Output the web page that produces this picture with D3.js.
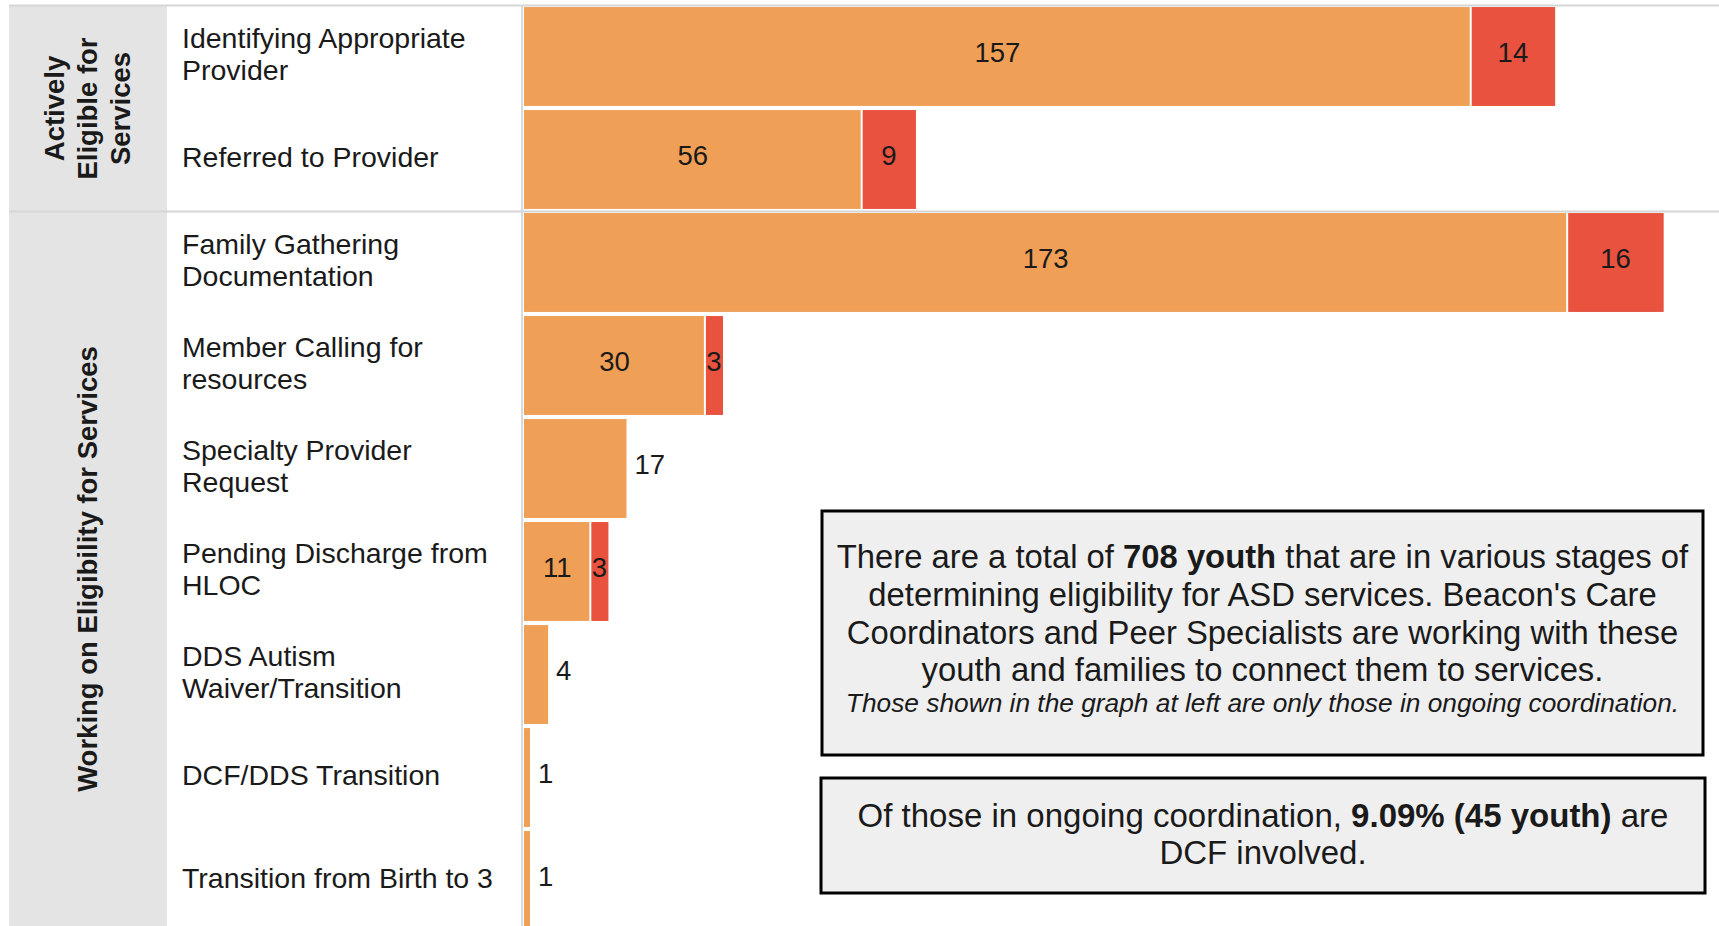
<!DOCTYPE html>
<html>
<head>
<meta charset="utf-8">
<script src="https://cdn.jsdelivr.net/npm/d3@7/dist/d3.min.js"></script>
<style>
  html, body { margin: 0; padding: 0; background: #fff; }
  svg { display: block; }
  text { font-family: "Liberation Sans", Arial, sans-serif; }
</style>
</head>
<body>
<svg id="chart" width="1719" height="926"></svg>
<script>
// ---- data ----
const categories = [
  "Identifying Appropriate Provider",
  "Referred to Provider",
  "Family Gathering Documentation",
  "Member Calling for resources",
  "Specialty Provider Request",
  "Pending Discharge from HLOC",
  "DDS Autism Waiver/Transition",
  "DCF/DDS Transition",
  "Transition from Birth to 3"
];
const categoryLines = [
  ["Identifying Appropriate", "Provider"],
  ["Referred to Provider"],
  ["Family Gathering", "Documentation"],
  ["Member Calling for", "resources"],
  ["Specialty Provider", "Request"],
  ["Pending Discharge from", "HLOC"],
  ["DDS Autism", "Waiver/Transition"],
  ["DCF/DDS Transition"],
  ["Transition from Birth to 3"]
];
const groups = ["Actively Eligible for Services", "Working on Eligibility for Services"];
const groupLines = [["Actively", "Eligible for", "Services"], ["Working on Eligibility for Services"]];
const groupOfCategory = [0, 0, 1, 1, 1, 1, 1, 1, 1];
const notDcfValues = [157, 56, 173, 30, 17, 11, 4, 1, 1];
const dcfValues = [14, 9, 16, 3, 0, 3, 0, 0, 0];
const seriesNames = ["Not DCF involved", "DCF involved"];
const seriesColors = ["#EFA056", "#E8523F"];

const box1Lines = [
  [{t: "There are a total of "}, {t: "708 youth", b: true}, {t: " that are in various stages of"}],
  [{t: "determining eligibility for ASD services. Beacon's Care"}],
  [{t: "Coordinators and Peer Specialists are working with these"}],
  [{t: "youth and families to connect them to services."}]
];
const box1Note = "Those shown in the graph at left are only those in ongoing coordination.";
const box2Lines = [
  [{t: "Of those in ongoing coordination, "}, {t: "9.09% (45 youth)", b: true}, {t: " are"}],
  [{t: "DCF involved."}]
];

// ---- layout ----
const W = 1719, H = 926;
const svg = d3.select("#chart");
const panelX0 = 9, panelX1 = 167, labelX = 182, axisX = 522, barX0 = 524;
const topY = 5;

const y = d3.scaleBand().domain(categories).range([topY, topY + 9 * 103]).paddingInner(0.04).paddingOuter(0.02);
const x = d3.scaleLinear().domain([0, 200]).range([barX0, barX0 + 200 * 6.03]);

const rows = categories.map((c, i) => ({
  cat: c, lines: categoryLines[i], g: groupOfCategory[i],
  a: notDcfValues[i], b: dcfValues[i]
}));

const groupSpans = groups.map((g, gi) => {
  const rs = rows.filter(r => r.g === gi);
  const y0 = gi === 0 ? topY + 1 : y(rs[0].cat) - 1;
  const last = rs[rs.length - 1];
  const y1 = gi === groups.length - 1 ? H : y(last.cat) + y.bandwidth() + 2;
  return {gi, y0, y1};
});

// grey header panel
svg.append("rect").attr("x", panelX0).attr("y", topY).attr("width", panelX1 - panelX0).attr("height", H - topY)
  .attr("fill", "#E4E4E4");

// vertical divider
svg.append("line").attr("x1", axisX).attr("x2", axisX).attr("y1", topY).attr("y2", H)
  .attr("stroke", "#DADADA").attr("stroke-width", 2);

// bars
const segs = [];
rows.forEach(r => {
  segs.push({cat: r.cat, s: 0, v0: 0, v1: r.a, v: r.a, hasDcf: r.b > 0});
  if (r.b > 0) segs.push({cat: r.cat, s: 1, v0: r.a, v1: r.a + r.b, v: r.b, hasDcf: true});
});
svg.append("g").selectAll("rect").data(segs).join("rect")
  .attr("x", d => x(d.v0) + (d.s === 1 ? 1 : 0))
  .attr("y", d => y(d.cat))
  .attr("width", d => x(d.v1) - x(d.v0) - (d.s === 1 ? 1 : 0) - (d.s === 0 && d.hasDcf ? 1 : 0))
  .attr("height", y.bandwidth())
  .attr("fill", d => seriesColors[d.s]);

// horizontal lines: top and group divider
const hLines = [topY + 0.5, y(categories[groupOfCategory.indexOf(1)]) - 1.5];
svg.append("g").selectAll("line").data(hLines).join("line")
  .attr("x1", panelX0).attr("x2", W).attr("y1", d => d).attr("y2", d => d)
  .attr("stroke", "#D6D6D6").attr("stroke-width", 2);

// value labels
const valueFont = 27.5;
svg.append("g").selectAll("text").data(segs).join("text")
  .attr("x", d => d.hasDcf ? (x(d.v0) + x(d.v1)) / 2 : x(d.v1) + 8)
  .attr("y", d => y(d.cat) + y.bandwidth() / 2 + 5)
  .attr("text-anchor", d => d.hasDcf ? "middle" : "start")
  .attr("font-size", valueFont)
  .attr("fill", "#1a1a1a")
  .text(d => d.v);

// category labels
const labelFont = 28.5, labelLH = 32;
const lg = svg.append("g");
rows.forEach((r, i) => {
  const cy = y(r.cat) + y.bandwidth() / 2;
  const n = r.lines.length;
  r.lines.forEach((ln, k) => {
    lg.append("text")
      .attr("x", labelX)
      .attr("y", cy + (k - (n - 1) / 2) * labelLH + 7.5)
      .attr("font-size", labelFont)
      .attr("fill", "#1a1a1a")
      .text(ln);
  });
});

// group labels (rotated)
const groupFont = 27.5, groupLH = 33;
groupSpans.forEach(gs => {
  const cy = (gs.y0 + gs.y1) / 2;
  const cx = (panelX0 + panelX1) / 2 - 0.5;
  const ls = groupLines[gs.gi];
  const n = ls.length;
  const t = svg.append("text")
    .attr("transform", `translate(${cx},${cy}) rotate(-90)`)
    .attr("text-anchor", "middle")
    .attr("font-size", groupFont).attr("font-weight", "bold").attr("fill", "#1a1a1a");
  ls.forEach((ln, k) => {
    t.append("tspan").attr("x", 0).attr("y", (k - (n - 1) / 2) * groupLH + 9.5).text(ln);
  });
});

// text boxes
function drawBox(bx, by, bw, bh, lines, fontSize, lh, firstBaseline) {
  svg.append("rect").attr("x", bx).attr("y", by).attr("width", bw).attr("height", bh)
    .attr("fill", "#EFEFEF").attr("stroke", "#000").attr("stroke-width", 3);
  const cx = bx + bw / 2;
  lines.forEach((ln, k) => {
    const t = svg.append("text").attr("x", cx).attr("y", firstBaseline + k * lh)
      .attr("text-anchor", "middle").attr("font-size", fontSize).attr("fill", "#1a1a1a");
    ln.forEach(part => {
      t.append("tspan").attr("font-weight", part.b ? "bold" : "normal").text(part.t);
    });
  });
}
drawBox(822, 511, 881, 244, box1Lines, 32.8, 37.8, 568);
svg.append("text").attr("x", 822 + 881 / 2).attr("y", 712)
  .attr("text-anchor", "middle").attr("font-size", 26.3).attr("font-style", "italic")
  .attr("fill", "#1a1a1a").text(box1Note);
drawBox(821, 778, 884, 115, box2Lines, 33, 36.5, 827);
</script>
</body>
</html>
